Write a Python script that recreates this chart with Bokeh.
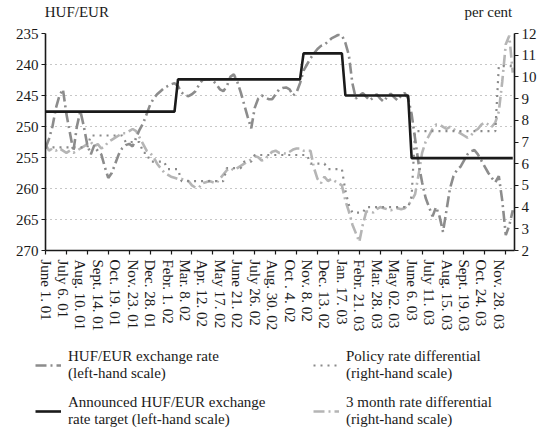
from bokeh.plotting import figure
from bokeh.layouts import column, row
from bokeh.models import Range1d, LinearAxis, FixedTicker, Legend, LegendItem
from bokeh.embed import file_html
from bokeh.resources import INLINE

# ---- data (weekly observations, week 0 = June 1, 2001) ----
date_labels = ["June 1. 01", "July 6. 01", "Aug. 10. 01", "Sept. 14. 01", "Oct. 19. 01",
               "Nov. 23. 01", "Dec. 28. 01", "Febr. 1. 02", "Mar. 8. 02", "Apr. 12. 02",
               "May 17. 02", "June 21. 02", "July 26. 02", "Aug. 30. 02", "Oct . 4. 02",
               "Nov. 8. 02", "Dec. 13. 02", "Jan. 17. 03", "Febr. 21. 03", "Mar. 28. 03",
               "May 02. 03", "June 6. 03", "July 11. 03", "Aug. 15. 03", "Sept. 19. 03",
               "Oct. 24. 03", "Nov. 28. 03"]
label_weeks = [0, 5, 10, 15, 20, 25, 30, 35, 40, 45, 50, 55, 60, 65, 70, 75, 80, 85, 90,
               95, 100, 105, 110, 115, 120, 125, 130]
tick_weeks = [0, 6, 12, 18, 24, 30, 36, 42, 48, 54, 60, 66, 72, 78, 84, 90, 96, 102, 108,
              114, 120, 126, 132]

exchange_rate = [
    253.5, 252, 250, 247, 245, 244, 248, 251, 254, 250,
    247.5, 250, 253, 254.5, 253, 254, 254.5, 256.5, 258.3, 257.5,
    256, 254.5, 253.5, 253, 252.8, 253.2, 251.8, 250.5, 249.5, 248,
    246.5, 245.5, 244.8, 244.3, 243.8, 243.5, 243.2, 243, 243.5, 244.5,
    245, 245.1, 244.8, 244.3, 243.3, 242.5, 242.4, 242.4, 242.6, 243.2,
    244, 244.3, 243.5, 242, 241.6, 242.8, 244.5, 246.5, 248.5, 250.3,
    247, 245.5, 245, 245.3, 245.6, 245.6, 244.8, 244, 243.8, 243.7,
    244, 245, 244.5, 243, 241, 240, 239, 238.2, 237.5, 237,
    236.8, 236.3, 235.8, 235.5, 235.2, 235.3, 236.5, 238.5, 243, 245.5,
    245, 244.6, 245.2, 245.8, 245.3, 244.8, 245.5, 246, 245.2, 244.7,
    245.3, 245.8, 245, 244.6, 245.5, 248, 252, 256, 259, 261.5,
    263, 264.5, 263, 264.5, 267, 263.5, 260, 258, 257, 256.5,
    255.5, 254.5, 254, 253.8, 254.5, 255.5, 256.5, 257.5, 258.3, 259,
    258, 262, 267.5, 266, 263.5]

target_levels = [247.6, 242.4, 238.2, 245.0, 255.1]
target_weeks = [38, 36, 12, 19, 30]          # number of weeks at each level

policy_levels = [6.75, 7.3, 7.0, 6.5, 6.1, 5.75, 5.2, 5.8, 6.1, 6.4, 6.0, 5.75, 4.75, 4.1,
                 3.75, 4.0, 4.5, 7.5, 10.5]
policy_weeks = [13, 10, 5, 2, 5, 4, 13, 5, 3, 16, 5, 5, 1, 1, 4, 13, 1, 24, 5]

three_month = [
    6.9, 6.6, 6.7, 6.6, 6.7, 6.6, 6.5, 6.6, 6.5, 6.6,
    6.7, 6.8, 6.9, 7.0, 6.8, 6.9, 6.7, 6.8, 7.0, 7.1,
    7.2, 7.3, 7.4, 7.4, 7.5, 7.6, 7.5, 7.2, 6.9, 6.6,
    6.5, 6.3, 6.0, 5.8, 5.6, 5.5, 5.4, 5.35, 5.3, 5.3,
    5.25, 5.2, 5.0, 4.9, 4.9, 5.1, 5.15, 5.2, 5.15, 5.1,
    5.3, 5.5, 5.7, 5.8, 5.7, 5.8, 5.9, 6.0, 6.1, 6.2,
    6.35, 6.3, 6.15, 6.2, 6.4, 6.55, 6.6, 6.5, 6.5, 6.45,
    6.55, 6.65, 6.7, 6.7, 6.6, 6.6, 6.6, 5.8, 5.3, 5.1,
    5.4, 5.2, 5.3, 5.2, 5.1, 5.0, 4.3, 3.8, 3.2, 2.8,
    2.4, 3.2, 3.8, 3.8, 3.75, 3.9, 4.0, 3.95, 3.9, 3.85,
    3.9, 3.95, 3.9, 3.95, 4.1, 4.3, 4.6, 5.5, 6.5, 7.0,
    7.3, 7.6, 7.8, 7.8, 7.7, 7.6, 7.7, 7.6, 7.5, 7.4,
    7.3, 7.2, 7.3, 7.5, 7.6, 7.8, 7.9, 7.8, 7.7, 7.9,
    8.4, 9.8, 11.5, 11.9, 10.2]

left_ticks = [235, 240, 245, 250, 255, 260, 265, 270]
right_ticks = [2, 3, 4, 5, 6, 7, 8, 9, 10, 11, 12]
axis_titles = {9: "HUF/EUR", 127: "per cent"}

# ---- build series ----
target = [lvl for lvl, n in zip(target_levels, target_weeks) for _ in range(n)]
policy = [lvl for lvl, n in zip(policy_levels, policy_weeks) for _ in range(n)]
weeks = list(range(len(exchange_rate)))

FONT = "'Liberation Serif', 'Times New Roman', serif"
FS = "15px"
INK = "#1a1a1a"

STYLE_EX = dict(line_color="#8c8c8c", line_width=2.6, line_dash="11 4 2 4")
STYLE_TG = dict(line_color=INK, line_width=2.6)
STYLE_POL = dict(line_color="#8a8a8a", line_width=2.2, line_dash="2 5")
STYLE_3M = dict(line_color="#b5b5b5", line_width=2.6, line_dash="11 4 2 4")

p = figure(width=539, height=340, x_range=Range1d(0, 134.5), y_range=Range1d(270, 235),
           output_backend="svg", toolbar_location=None,
           min_border_left=45, min_border_right=24, min_border_top=32, min_border_bottom=90)
p.extra_y_ranges = {"pct": Range1d(2, 12)}
p.outline_line_color = None
p.background_fill_color = "white"

# grid
p.xgrid.visible = False
p.ygrid.ticker = FixedTicker(ticks=left_ticks)
p.ygrid.grid_line_color = "#8f8f8f"
p.ygrid.grid_line_dash = "1 4"
p.ygrid.grid_line_width = 1.2

ya = p.yaxis[0]
ya.ticker = FixedTicker(ticks=left_ticks)
xa = p.xaxis[0]
xa.ticker = FixedTicker(ticks=label_weeks, minor_ticks=tick_weeks)
xa.major_label_overrides = {w: s for w, s in zip(label_weeks, date_labels)}
xa.major_label_orientation = "vertical"
xa.major_tick_out = 0
xa.major_tick_in = 0
xa.minor_tick_out = 4
xa.minor_tick_in = 0
xa.major_label_standoff = 5

ra = LinearAxis(y_range_name="pct", ticker=FixedTicker(ticks=right_ticks))
p.add_layout(ra, "right")

for ax in (xa, ya, ra):
    ax.axis_line_color = INK
    ax.axis_line_width = 1.6
    ax.major_tick_line_color = INK
    ax.minor_tick_line_color = INK
    ax.major_tick_line_width = 1.2
    ax.minor_tick_line_width = 1.2
    ax.major_label_text_font = FONT
    ax.major_label_text_font_size = FS
    ax.major_label_text_color = INK
for ax in (ya, ra):
    ax.major_tick_out = 4
    ax.major_tick_in = 0
    ax.minor_tick_out = 0
    ax.minor_tick_in = 0
    ax.major_label_standoff = 3

# axis titles (unit captions above each scale)
ta = LinearAxis(ticker=FixedTicker(ticks=list(axis_titles.keys())),
                major_label_overrides=axis_titles)
ta.axis_line_color = None
ta.major_tick_line_color = None
ta.minor_tick_line_color = None
ta.major_label_standoff = 8
ta.major_label_text_font = FONT
ta.major_label_text_font_size = FS
ta.major_label_text_color = INK
p.add_layout(ta, "above")

# series
r3m = p.line(weeks, three_month, y_range_name="pct", **STYLE_3M)
rpol = p.line(weeks, policy, y_range_name="pct", **STYLE_POL)
rex = p.line(weeks, exchange_rate, **STYLE_EX)
rtg = p.line(weeks, target, **STYLE_TG)

# ---- legend panel (its own small canvas below the chart) ----
lf = figure(width=539, height=96, x_range=Range1d(0, 1), y_range=Range1d(0, 1),
            output_backend="svg", toolbar_location=None,
            x_axis_type=None, y_axis_type=None,
            min_border_left=0, min_border_right=0, min_border_top=0, min_border_bottom=0)
lf.outline_line_color = None
lf.grid.visible = False
# legend-key renderers: placed outside the visible range, only their styles are used
off = [-5, -4]
lex = lf.line(off, off, **STYLE_EX)
ltg = lf.line(off, off, **STYLE_TG)
lpol = lf.line(off, off, **STYLE_POL)
l3m = lf.line(off, off, **STYLE_3M)

legend = Legend(items=[
    LegendItem(label="HUF/EUR exchange rate\n(left-hand scale)", renderers=[lex]),
    LegendItem(label="Announced HUF/EUR exchange\nrate target (left-hand scale)", renderers=[ltg]),
    LegendItem(label="Policy rate differential\n(right-hand scale)", renderers=[lpol]),
    LegendItem(label="3 month rate differential\n(right-hand scale)", renderers=[l3m]),
], location=(35, 8), orientation="vertical", nrows=2,
    padding=0, margin=0, spacing=12,
    border_line_color=None, background_fill_alpha=0,
    glyph_width=26, glyph_height=14, label_standoff=7, label_width=233,
    label_text_font=FONT, label_text_font_size=FS, label_text_color=INK,
    label_text_line_height=1.3)
lf.add_layout(legend)

layout = column(p, row(lf), spacing=0)
open("out.html", "w").write(file_html(layout, INLINE))
